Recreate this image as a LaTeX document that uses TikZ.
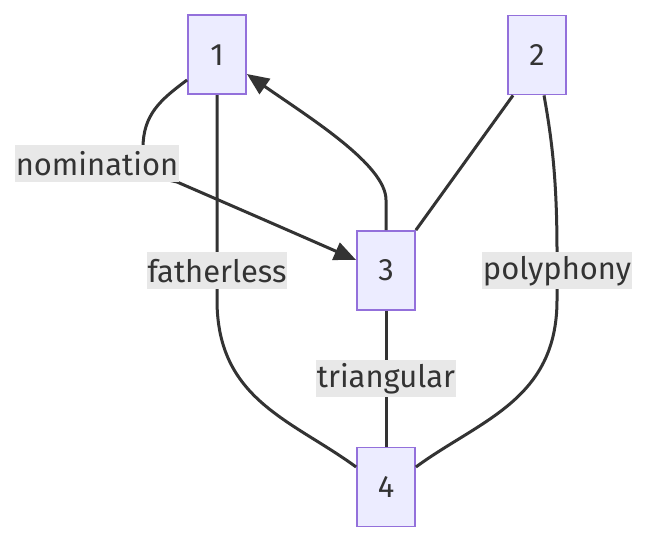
\documentclass[tikz,border=0pt]{standalone}
\usepackage{fontspec}
\setmainfont{Fira Sans}
\usetikzlibrary{arrows.meta}
\definecolor{boxfill}{HTML}{ECECFF}
\definecolor{boxline}{HTML}{9370DB}
\definecolor{ink}{HTML}{333333}
\definecolor{tagfill}{HTML}{E8E8E8}
\tikzset{
  vertex/.style={draw=boxline, fill=boxfill, line width=0.045cm, minimum width=1.45cm, minimum height=1.975cm, inner sep=0pt, text=ink},
  edgetag/.style={fill=tagfill, text=ink, inner xsep=0.02cm, inner ysep=0pt, minimum height=0.925cm},
  link/.style={draw=ink, line width=0.075cm},
  tip/.style={-{Triangle[length=0.55cm, width=0.46cm]}}
}
\begin{document}
\begin{tikzpicture}
                    \useasboundingbox (0,0) rectangle (16.150000,13.550000);
                    {\fontsize{22}{26}\selectfont
                    
                    % Marking node 1
                    \node [vertex] (n1) at (5.425000,12.180000) {1};%
                    
                    % Marking node 2
                    \node [vertex] (n2) at (13.425000,12.175000) {2};%
                    
                    % Marking node 3
                    \node [vertex] (n3) at (9.650000,6.787500) {3};%
                    
                    % Marking node 4
                    \node [vertex] (n4) at (9.650000,1.375000) {4};%
                    
                    % Placing edge labels (drawn later)
                    \coordinate (nom) at (2.425000,9.462500);%
                    \coordinate (fat) at (5.425000,6.775000);%
                    \coordinate (pol) at (13.925000,6.775000);%
                    \coordinate (tri) at (9.650000,4.075000);%
                    
                    % Drawing edge 1 3
                    \draw [link,tip] ([yshift=-0.63cm]n1.west) .. controls (4.000000,11.050000) and (3.575000,10.675000) .. (3.575000,9.850000) -- (nom) -- (4.425000,9.000000) .. controls (6.500000,8.100000) .. ([yshift=0.262cm]n3.west);%
                    
                    % Drawing edge 3 1
                    \draw [link,tip] (n3.north) -- (9.650000,8.550000) .. controls (9.650000,9.425000) and (7.750000,10.600000) .. ([yshift=-0.48cm]n1.east);%
                    
                    % Drawing edge 1 4
                    \draw [link] (n1.south) -- (fat) -- (5.425000,6.050000) .. controls (5.425000,3.550000) and (7.300000,3.050000) .. ([yshift=0.5cm]n4.west);%
                    
                    % Drawing edge 2 3
                    \draw [link] ([xshift=-0.6cm]n2.south) -- (n3.north east);%
                    
                    % Drawing edge 2 4
                    \draw [link] ([xshift=0.175cm]n2.south) .. controls (13.800000,10.050000) and (13.925000,9.050000) .. (13.925000,7.225000) -- (pol) -- (13.925000,6.050000) .. controls (13.925000,3.550000) and (12.000000,3.050000) .. ([yshift=0.5cm]n4.east);%
                    
                    % Drawing edge 3 4
                    \draw [link] (n3.south) -- (tri) -- (n4.north);%
                    
                    % Marking edge labels
                    \node [edgetag] at (nom) {nomination};%
                    \node [edgetag] at (fat) {fatherless};%
                    \node [edgetag] at (pol) {polyphony};%
                    \node [edgetag] at (tri) {triangular};%
                    }
\end{tikzpicture}
\end{document}
